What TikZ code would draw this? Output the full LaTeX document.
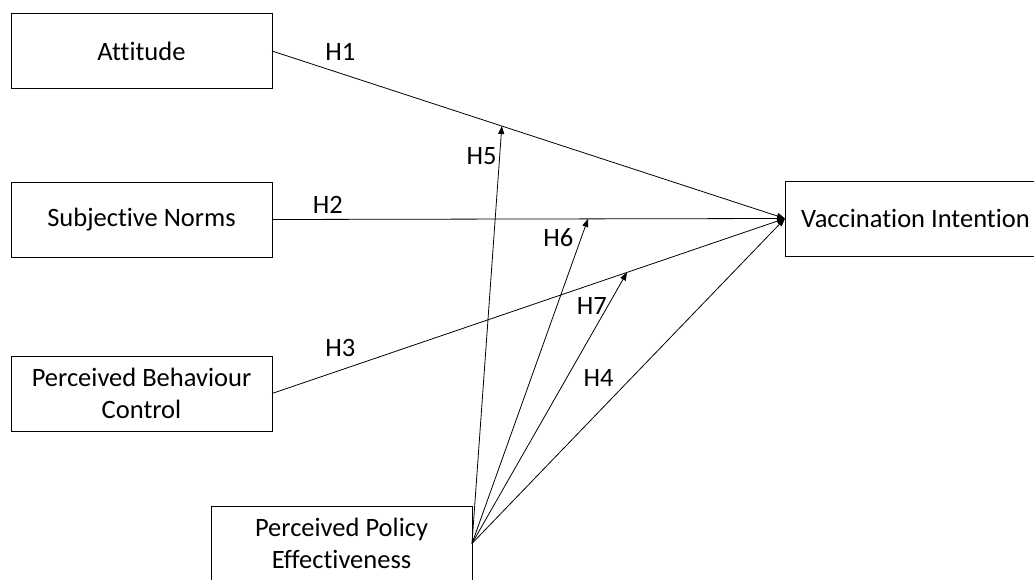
\documentclass[tikz,border=0pt]{standalone}
\usepackage{fontspec}
\setmainfont[Ligatures=NoCommon,RawFeature=-liga]{Carlito}
\usetikzlibrary{arrows.meta}

\begin{document}
\begin{tikzpicture}[x=1pt,y=-1pt,inner sep=0pt,outer sep=0pt,line width=0.8pt,
>={Triangle[length=8pt,width=6pt]},
varblock/.style={draw,rectangle,align=center,minimum width=261pt,minimum height=75pt,line width=0.9pt,font=\fontsize{26.5}{32}\selectfont},
hyp/.style={font=\fontsize{26.5}{32}\selectfont}]
\useasboundingbox (0,0) rectangle (1034,580);

\draw (141.5,51) node[varblock] (att) {Attitude};
\draw (141.5,219.5) node[varblock] (sn) {Subjective Norms};
\draw (141.5,393.5) node[varblock] (pbc) {Perceived Behaviour\\Control};
\draw (341.5,543.5) node[varblock] (ppe) {Perceived Policy\\Effectiveness};
\draw (915.5,218.5) node[varblock] (vi) {Vaccination Intention};

% direct paths
\draw[->] (att.east) -- node[hyp,above=13pt,pos=.133] (h1) {H1} (vi.west);
\draw[->] (sn.east) -- node[hyp,above=6pt,pos=.109] (h2) {H2} (vi.west);
\draw[->] (pbc.east) -- node[hyp,above=14pt,pos=.133] (h3) {H3} (vi.west);
\draw[->] (ppe.east) -- node[hyp,left=18pt,pos=.51] (h4) {H4} (vi.west);

% moderating paths
\path (att.east) -- coordinate[pos=.448] (m1) (vi.west);
\path (sn.east) -- coordinate[pos=.616] (m2) (vi.west);
\path (pbc.east) -- coordinate[pos=.692] (m3) (vi.west);
\draw[->] (ppe.east) -- node[hyp,left=3pt,pos=.928] (h5) {H5} (m1);
\draw[->] (ppe.east) -- node[hyp,left=8pt,pos=.943] (h6) {H6} (m2);
\draw[->] (ppe.east) -- node[hyp,left=1pt,pos=.876] (h7) {H7} (m3);
\end{tikzpicture}
\end{document}
